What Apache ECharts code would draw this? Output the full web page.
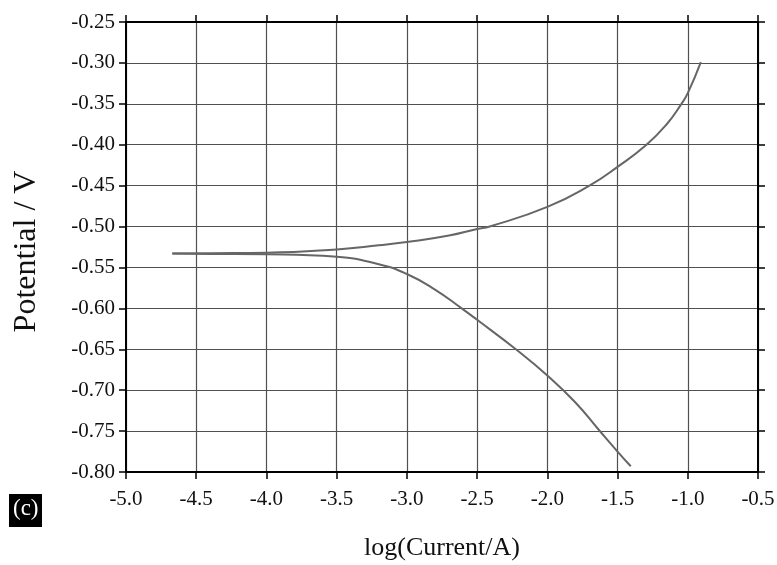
<!DOCTYPE html>
<html>
<head>
<meta charset="utf-8">
<script src="https://cdn.jsdelivr.net/npm/echarts@6/dist/echarts.min.js"></script>
<style>
html,body{margin:0;padding:0;background:#fff;}
#chart{width:777px;height:565px;}
</style>
</head>
<body>
<div id="chart"></div>
<script>
// log(Current/A) and Potential / V readings
var anodicX = [-4.67, -4.4, -4.0, -3.5, -3.2, -3.0, -2.7, -2.5, -2.41, -2.0, -1.7, -1.5, -1.294, -1.15, -1.045, -1.0, -0.907];
var anodicY = [-0.533, -0.5325, -0.532, -0.528, -0.523, -0.519, -0.511, -0.503, -0.500, -0.476, -0.450, -0.427, -0.400, -0.375, -0.350, -0.337, -0.299];
var cathodicX = [-4.67, -4.4, -4.0, -3.5, -3.2, -3.0, -2.8, -2.61, -2.5, -2.224, -2.0, -1.8, -1.631, -1.5, -1.406];
var cathodicY = [-0.533, -0.5335, -0.534, -0.537, -0.546, -0.558, -0.577, -0.600, -0.614, -0.650, -0.682, -0.715, -0.749, -0.775, -0.793];
var xTitle = 'log(Current/A)';
var yTitle = 'Potential / V';
var panelLabel = '(c)';

function pairs(xs, ys){ return xs.map(function(x,i){ return [x, ys[i]]; }); }

var font = 'Liberation Serif';
var chart = echarts.init(document.getElementById('chart'));
var tick = {show:true, inside:false, length:7, lineStyle:{color:'#000', width:1.5}};
var axLine = {show:true, lineStyle:{color:'#000', width:2}};
chart.setOption({
  animation:false,
  backgroundColor:'#fff',
  grid:{left:126, right:19, top:22, bottom:93, containLabel:false, outerBoundsMode:'none'},
  graphic:[
    {type:'rect', left:9, top:494, shape:{width:33, height:33}, style:{fill:'#000'}},
    {type:'text', left:13, top:497, style:{text:panelLabel, fill:'#fff', font:'23px "Liberation Serif"'}}
  ],
  xAxis:[{
    type:'value', min:-5, max:-0.5, interval:0.5, position:'bottom',
    name:xTitle, nameLocation:'middle', nameGap:63,
    nameTextStyle:{fontFamily:font, fontSize:26, color:'#111'},
    axisLine:axLine, axisTick:tick,
    axisLabel:{fontFamily:font, fontSize:21, color:'#111', margin:17, formatter:function(v){return v.toFixed(1);}},
    splitLine:{show:true, lineStyle:{color:'#505050', width:1.2}}
  },{
    type:'value', min:-5, max:-0.5, interval:0.5, position:'top',
    axisLine:axLine, axisTick:tick, axisLabel:{show:false}, splitLine:{show:false}
  }],
  yAxis:[{
    type:'value', min:-0.8, max:-0.25, interval:0.05, position:'left',
    name:yTitle, nameLocation:'middle', nameGap:83, nameRotate:90,
    nameTextStyle:{fontFamily:font, fontSize:32, color:'#111', padding:[0,9,0,0]},
    axisLine:axLine, axisTick:tick,
    axisLabel:{fontFamily:font, fontSize:21, color:'#111', margin:11, formatter:function(v){return v.toFixed(2);}},
    splitLine:{show:true, lineStyle:{color:'#505050', width:1.2}}
  },{
    type:'value', min:-0.8, max:-0.25, interval:0.05, position:'right',
    axisLine:axLine, axisTick:tick, axisLabel:{show:false}, splitLine:{show:false}
  }],
  series:[
    {type:'line', data:pairs(anodicX, anodicY), smooth:0.5, symbol:'none', lineStyle:{color:'#666', width:2}},
    {type:'line', data:pairs(cathodicX, cathodicY), smooth:0.5, symbol:'none', lineStyle:{color:'#666', width:2}}
  ]
});
</script>
</body>
</html>
